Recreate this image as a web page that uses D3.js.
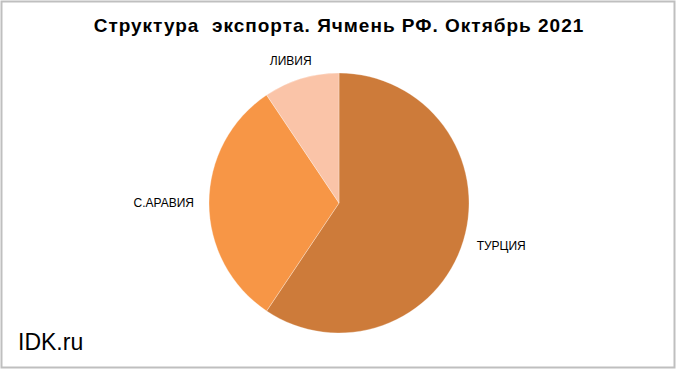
<!DOCTYPE html>
<html>
<head>
<meta charset="utf-8">
<script src="https://cdn.jsdelivr.net/npm/d3@7"></script>
<style>
  body { margin: 0; background: #fff; }
  svg { display: block; font-family: "Liberation Sans", Arial, sans-serif; }
</style>
</head>
<body>
<svg id="chart"></svg>
<script>
// barley export structure, Oct 2021 (shares, %)
const countries = ["ТУРЦИЯ", "С.АРАВИЯ", "ЛИВИЯ"]
const shares = [59.4, 31.2, 9.4]
const colors = ["#cd7b3a", "#f79646", "#fac4a8"]

const titleText = "Структура  экспорта. Ячмень РФ. Октябрь 2021"

function PieChart(id, width = 680, height = 374){

    const cx = 339, cy = 203, radius = 130, gapX = 15, gapY = 11

    const svg = d3.select(`#${id}`)
                  .attr("width", width)
                  .attr("height", height)

    // frame
    svg.append("rect")
       .attr("x", 1.5).attr("y", 1.5)
       .attr("width", 673).attr("height", 366)
       .attr("fill", "#fff")
       .attr("stroke", "#bfbfbf")
       .attr("stroke-width", 2)

    svg.append("text")
       .attr("x", cx)
       .attr("y", 32)
       .attr("text-anchor", "middle")
       .attr("font-size", 19)
       .attr("font-weight", "bold")
       .attr("letter-spacing", 1)
       .style("white-space", "pre")
       .text(titleText)

    const data = countries.map((c, i) => ({name: c, value: shares[i], color: colors[i]}))

    const pie = d3.pie().sort(null).value(d => d.value)
    const arc = d3.arc().innerRadius(0).outerRadius(radius)

    const body = svg.append("g")
                    .attr("transform", `translate(${cx},${cy})`)

    const arcs = pie(data)

    body.selectAll("path")
        .data(arcs)
        .join("path")
        .attr("d", arc)
        .attr("fill", d => d.data.color)
        .attr("stroke", "#fff")
        .attr("stroke-width", 0.3)

    // labels outside, box pushed away from the circle
    body.selectAll("text.lbl")
        .data(arcs)
        .join("text")
        .attr("class", "lbl")
        .attr("font-size", 12)
        .attr("text-anchor", "middle")
        .attr("dominant-baseline", "central")
        .text(d => d.data.name)
        .each(function(d){
            const a = (d.startAngle + d.endAngle) / 2
            const bb = this.getBBox()
            const s = Math.sin(a), c = Math.cos(a)
            const x = s * (radius + gapX) + s * bb.width / 2
            const y = -c * (radius + gapY) - c * bb.height / 2
            d3.select(this).attr("x", x).attr("y", y)
        })

    svg.append("text")
       .attr("x", 18)
       .attr("y", 350)
       .attr("font-size", 23)
       .text("IDK.ru")
}

PieChart("chart")
</script>
</body>
</html>
